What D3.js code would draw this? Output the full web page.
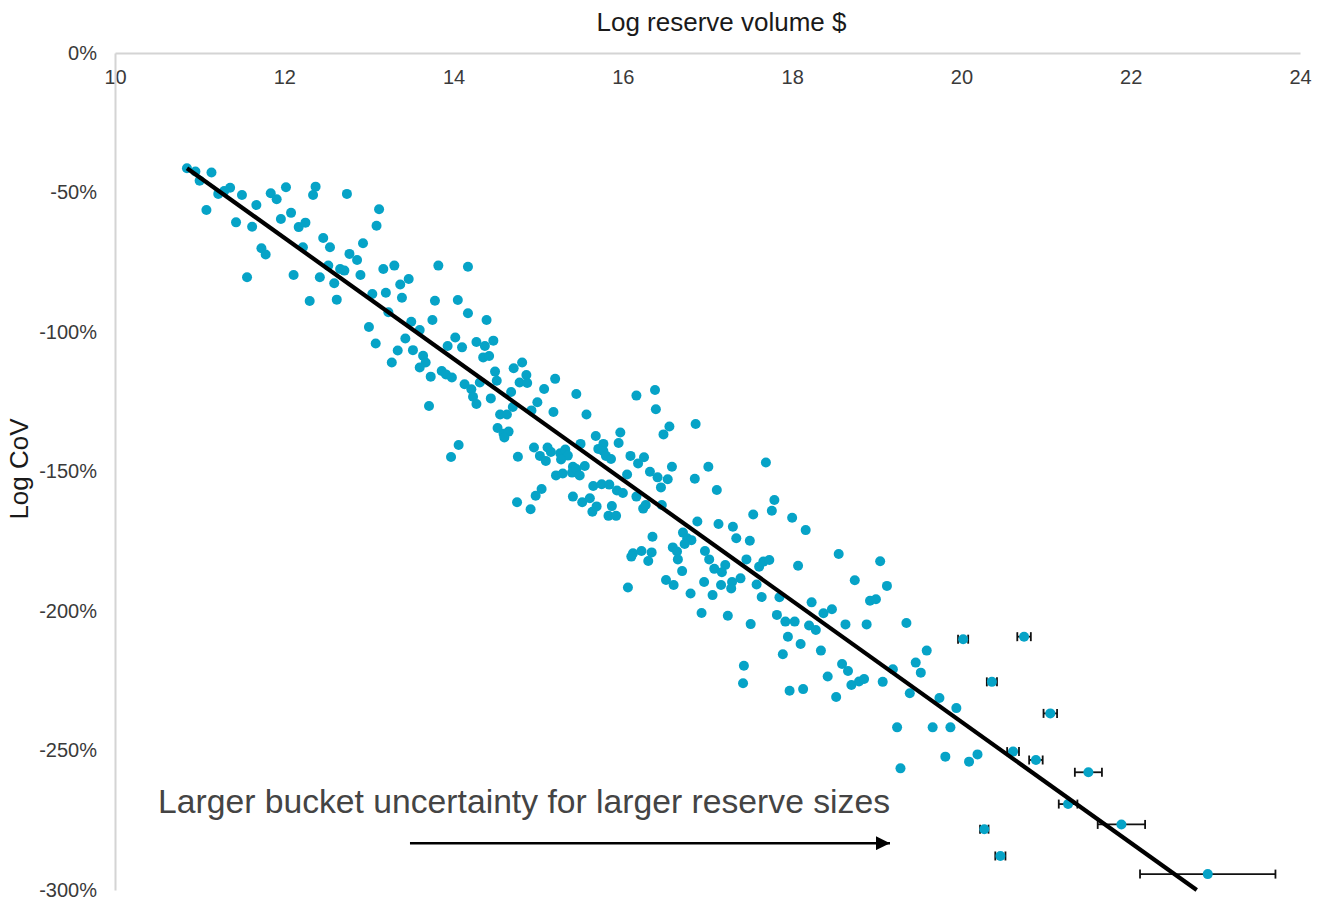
<!DOCTYPE html>
<html>
<head>
<meta charset="utf-8">
<script src="https://cdn.jsdelivr.net/npm/d3@7"></script>
<style>
  html, body { margin: 0; padding: 0; background: #ffffff; }
  svg { display: block; font-family: "Liberation Sans", Arial, sans-serif; }
</style>
</head>
<body>
<svg id="chart" width="1322" height="900"></svg>
<script>
// Log reserve volume ($) for each reserve
const logVolume = [
  10.85, 10.95, 11.14, 11.00, 11.22, 11.36, 11.29, 11.50, 11.08, 11.67, 11.84, 11.91, 12.02, 12.37, 12.34, 12.74,
  11.43, 11.62, 11.96, 12.08, 12.17, 12.25, 11.73, 11.78, 11.56, 12.22, 12.46, 12.54, 12.11, 12.42, 12.52, 12.66,
  12.71, 12.59, 12.30, 12.62, 12.77, 12.86, 12.93, 13.12, 13.09, 12.90, 13.17, 13.30, 13.47, 13.37, 13.20, 13.39,
  13.04, 13.82, 13.78, 13.75, 13.50, 13.60, 13.23, 13.00, 13.08, 13.43, 13.34, 13.52, 13.64, 13.67, 13.60, 13.27,
  13.73, 13.86, 13.91, 13.98, 13.93, 14.17, 14.05, 14.17, 14.39, 14.02, 14.10, 14.27, 14.37, 14.47, 14.35, 14.42,
  14.13, 14.21, 14.23, 14.27, 14.31, 14.44, 14.49, 14.51, 14.71, 14.81, 14.86, 14.78, 14.87, 15.07, 15.20, 14.68,
  14.99, 14.70, 14.55, 14.63, 14.92, 15.18, 15.45, 15.57, 16.16, 16.38, 16.39, 14.52, 14.59, 14.65, 14.60, 13.71,
  14.06, 13.97, 14.76, 14.95, 15.02, 15.09, 15.11, 15.15, 15.26, 15.32, 15.35, 15.27, 15.50, 15.41, 15.40, 15.45,
  15.49, 15.55, 15.21, 15.29, 15.68, 15.77, 15.71, 15.77, 15.80, 15.86, 15.95, 15.97, 16.09, 16.18, 16.25, 16.05,
  16.32, 16.41, 16.53, 16.45, 16.58, 16.48, 16.55, 16.86, 16.85, 15.65, 15.75, 15.84, 15.93, 16.00, 15.41, 15.52,
  15.61, 15.64, 15.69, 15.87, 15.83, 15.92, 16.16, 16.24, 16.27, 16.46, 15.04, 14.97, 14.75, 14.91, 16.88, 17.01,
  17.11, 17.69, 16.35, 16.12, 16.10, 16.22, 16.34, 16.30, 16.59, 16.64, 16.65, 16.71, 16.76, 16.81, 16.73, 16.70,
  16.51, 16.60, 16.06, 16.97, 17.02, 17.08, 17.21, 17.17, 16.96, 16.80, 17.06, 17.16, 17.29, 17.28, 17.39, 17.13,
  17.30, 17.34, 17.50, 17.46, 17.61, 17.66, 17.73, 17.58, 17.64, 17.54, 17.76, 17.79, 18.00, 18.16, 18.07, 17.85,
  16.93, 17.24, 17.51, 17.82, 17.92, 18.03, 18.20, 18.23, 18.37, 18.47, 18.55, 18.74, 18.92, 18.99, 19.04, 19.12,
  18.63, 18.88, 18.28, 19.35, 19.59, 19.46, 19.52, 19.19, 19.07, 19.39, 19.74, 19.94, 19.24, 19.66, 19.87, 17.95,
  18.10, 17.89, 18.34, 17.43, 17.42, 17.97, 18.13, 18.59, 18.66, 18.42, 18.52, 18.70, 18.79, 18.85, 19.81, 20.09,
  20.19, 19.28
];

// Log coefficient of variation (%) for each reserve
const logCov = [
  -41.3, -42.5, -42.8, -45.8, -50.5, -48.3, -49.5, -50.9, -56.3, -54.5, -50.3, -52.4, -48.1, -47.9, -50.9, -50.5,
  -60.7, -62.3, -59.5, -57.3, -62.4, -60.8, -70.0, -72.2, -80.4, -69.6, -66.3, -69.6, -79.6, -80.4, -76.2, -77.4,
  -78.0, -82.5, -88.9, -88.4, -72.0, -74.2, -68.2, -56.0, -61.9, -79.6, -77.4, -76.2, -81.0, -83.0, -85.9, -87.7,
  -86.4, -76.2, -88.8, -95.7, -96.3, -99.3, -92.9, -98.2, -104.1, -102.3, -106.6, -106.5, -108.5, -110.9, -112.7, -110.9,
  -116.0, -114.0, -115.2, -116.3, -105.0, -76.6, -88.5, -93.3, -95.7, -102.0, -105.5, -103.6, -105.0, -103.1, -109.1, -108.6,
  -118.7, -120.5, -123.2, -125.8, -118.1, -123.8, -114.2, -117.5, -113.0, -110.9, -115.4, -118.1, -118.3, -120.4, -116.8, -121.5,
  -125.2, -126.9, -129.6, -129.6, -128.1, -128.7, -122.2, -129.6, -122.8, -120.8, -127.7, -134.4, -136.5, -135.7, -137.8, -126.5,
  -140.5, -144.8, -144.7, -141.4, -144.4, -146.2, -141.4, -143.0, -143.5, -142.1, -144.3, -145.7, -140.1, -148.3, -150.4, -149.1,
  -151.4, -148.0, -151.4, -150.7, -137.3, -140.1, -141.9, -142.7, -144.4, -145.5, -139.8, -136.0, -144.4, -147.1, -144.9, -151.1,
  -150.1, -152.1, -152.8, -155.7, -148.3, -136.7, -133.9, -133.0, -152.6, -155.2, -154.6, -154.7, -156.8, -157.7, -159.0, -161.0,
  -159.6, -164.4, -162.5, -162.4, -165.9, -165.9, -159.0, -163.3, -162.0, -162.0, -156.3, -158.7, -161.0, -163.5, -167.9, -148.3,
  -156.6, -146.8, -173.4, -179.3, -180.5, -178.5, -179.0, -182.1, -177.2, -178.7, -181.5, -171.9, -173.9, -174.6, -176.0, -185.7,
  -188.9, -190.7, -191.6, -178.5, -181.5, -184.9, -183.5, -186.1, -189.6, -193.7, -194.3, -190.7, -189.6, -191.9, -188.3, -168.8,
  -169.8, -173.9, -174.8, -181.5, -184.1, -182.3, -181.7, -190.5, -195.0, -165.4, -164.1, -160.2, -166.6, -171.0, -183.8, -195.1,
  -200.7, -201.7, -204.7, -201.4, -203.8, -203.8, -205.2, -196.9, -200.8, -199.4, -179.6, -189.0, -196.3, -195.8, -182.2, -191.0,
  -204.8, -204.8, -206.8, -204.3, -214.2, -218.5, -222.1, -220.9, -225.4, -229.5, -231.2, -234.8, -241.7, -241.7, -241.7, -209.2,
  -211.8, -215.5, -214.2, -219.6, -225.9, -228.6, -228.0, -219.0, -221.5, -223.5, -230.8, -226.5, -225.3, -224.4, -252.2, -254.0,
  -251.4, -256.4
];

// Large-reserve buckets, drawn with their horizontal uncertainty (half-width in log volume)
const bucketVolume    = [20.02, 20.36, 20.61, 20.27, 20.46, 20.74, 21.05, 20.88, 21.50, 21.26, 21.89, 22.91];
const bucketCov       = [-210.1, -225.4, -250.4, -278.2, -287.8, -209.2, -236.7, -253.4, -257.8, -269.2, -276.5, -294.3];
const bucketHalfWidth = [0.06, 0.06, 0.07, 0.05, 0.06, 0.08, 0.08, 0.08, 0.16, 0.11, 0.28, 0.80];

// Fitted trend line end points
const trendVolume = [10.85, 22.78];
const trendCov    = [-41.3, -300.0];

// Axis ticks
const xTicks = [10, 12, 14, 16, 18, 20, 22, 24];
const yTicks = [0, -50, -100, -150, -200, -250, -300];

// Annotation
const noteText = "Larger bucket uncertainty for larger reserve sizes";
const noteAt = [10.508, -272.4];
const arrowFrom = [13.485, -283.2];
const arrowTo = [19.156, -283.2];

const svg = d3.select("#chart");
const x = d3.scaleLinear().domain([10, 24]).range([115, 1300]);
const y = d3.scaleLinear().domain([0, -300]).range([53, 890]);

const pointColor = "#06a3c7";
const axisColor = "#d4d4d4";
const labelColor = "#3a3a3a";
const pointRadius = 5;

// X axis along the 0% line, labels under it
const xAxis = svg.append("g")
  .attr("transform", `translate(0,${y(0)})`)
  .call(d3.axisBottom(x).tickValues(xTicks).tickSize(0).tickPadding(17).tickFormat(d3.format("d")));
xAxis.select(".domain").attr("stroke", axisColor).attr("stroke-width", 2);
xAxis.selectAll("text").attr("font-size", 20).attr("fill", labelColor)
  .attr("font-family", "'Liberation Sans', Arial, sans-serif");

// Y axis
const yAxis = svg.append("g")
  .attr("transform", `translate(${x(10)},0)`)
  .call(d3.axisLeft(y).tickValues(yTicks).tickSize(0).tickPadding(18).tickFormat(d => d + "%"));
yAxis.select(".domain").attr("stroke", axisColor).attr("stroke-width", 2);
yAxis.selectAll("text").attr("font-size", 20).attr("fill", labelColor)
  .attr("font-family", "'Liberation Sans', Arial, sans-serif");

// Axis titles
svg.append("text")
  .attr("x", (x(10) + x(24)) / 2 + 14)
  .attr("y", 31)
  .attr("text-anchor", "middle")
  .attr("font-size", 26)
  .attr("fill", "#1a1a1a")
  .text("Log reserve volume $");

svg.append("text")
  .attr("transform", "translate(28,469) rotate(-90)")
  .attr("text-anchor", "middle")
  .attr("font-size", 26)
  .attr("fill", "#1a1a1a")
  .text("Log CoV");

// Reserve points
const points = d3.range(logVolume.length).map(i => ({ v: logVolume[i], c: logCov[i] }));
svg.append("g").selectAll("circle")
  .data(points)
  .join("circle")
  .attr("cx", d => x(d.v))
  .attr("cy", d => y(d.c))
  .attr("r", pointRadius)
  .attr("fill", pointColor);

// Bucket points with error bars
const buckets = d3.range(bucketVolume.length).map(i => ({
  v: bucketVolume[i], c: bucketCov[i], h: bucketHalfWidth[i]
}));
const eb = svg.append("g").attr("stroke", "#111").attr("stroke-width", 1.8);
const capH = 4.5;
buckets.forEach(d => {
  const cy = y(d.c), x0 = x(d.v - d.h), x1 = x(d.v + d.h);
  eb.append("line").attr("x1", x0).attr("x2", x1).attr("y1", cy).attr("y2", cy);
  eb.append("line").attr("x1", x0).attr("x2", x0).attr("y1", cy - capH).attr("y2", cy + capH);
  eb.append("line").attr("x1", x1).attr("x2", x1).attr("y1", cy - capH).attr("y2", cy + capH);
});
svg.append("g").selectAll("circle")
  .data(buckets)
  .join("circle")
  .attr("cx", d => x(d.v))
  .attr("cy", d => y(d.c))
  .attr("r", pointRadius)
  .attr("fill", pointColor);

// Trend line
svg.append("line")
  .attr("x1", x(trendVolume[0])).attr("y1", y(trendCov[0]))
  .attr("x2", x(trendVolume[1])).attr("y2", y(trendCov[1]))
  .attr("stroke", "#000")
  .attr("stroke-width", 4.2);

// Annotation text and arrow
svg.append("defs").append("marker")
  .attr("id", "arrowhead")
  .attr("viewBox", "0 0 14 14")
  .attr("refX", 14).attr("refY", 7)
  .attr("markerWidth", 14).attr("markerHeight", 14)
  .attr("markerUnits", "userSpaceOnUse")
  .attr("orient", "auto")
  .append("path")
  .attr("d", "M0,0 L14,7 L0,14 Z")
  .attr("fill", "#000");

svg.append("text")
  .attr("x", x(noteAt[0]))
  .attr("y", y(noteAt[1]))
  .attr("font-size", 34)
  .attr("fill", "#444")
  .attr("textLength", 732)
  .attr("lengthAdjust", "spacingAndGlyphs")
  .text(noteText);

svg.append("line")
  .attr("x1", x(arrowFrom[0])).attr("y1", y(arrowFrom[1]))
  .attr("x2", x(arrowTo[0])).attr("y2", y(arrowTo[1]))
  .attr("stroke", "#000")
  .attr("stroke-width", 2.5)
  .attr("marker-end", "url(#arrowhead)");
</script>
</body>
</html>
